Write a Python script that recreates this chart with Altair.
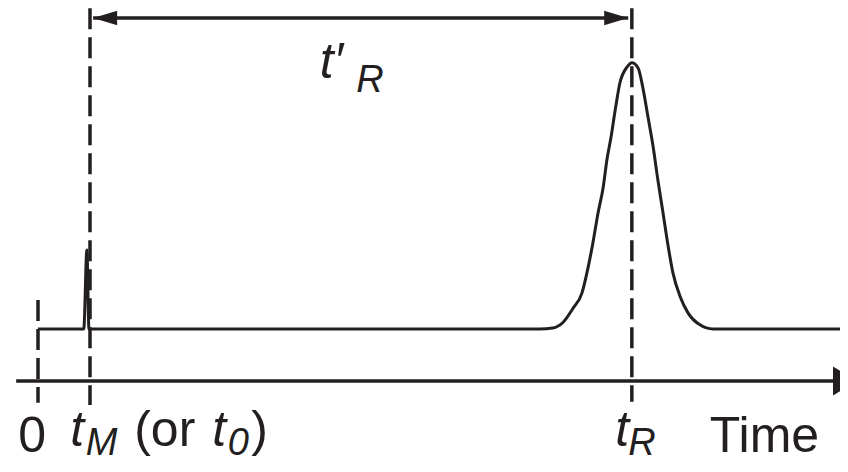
import altair as alt
import pandas as pd

INK = "#231f20"

# Chromatogram trace (time units: t0 = 0, tM = 1; signal: baseline = 1)
trace_time = [0.00, 0.88, 0.94, 0.98, 9.65, 9.90, 10.10, 10.29, 10.46, 10.58, 10.67,
              10.77, 10.87, 10.94, 11.02, 11.10, 11.19, 11.33, 11.42, 11.54, 11.63,
              11.73, 11.83, 11.92, 12.02, 12.12, 12.21, 12.35, 12.50, 12.73, 12.98, 15.60]
trace_signal = [1.00, 1.00, 2.52, 1.00, 1.00, 1.02, 1.13, 1.40, 1.69, 2.19, 2.65,
                3.23, 3.73, 4.25, 4.69, 5.21, 5.73, 6.04, 6.12, 6.02, 5.65,
                5.08, 4.50, 3.87, 3.23, 2.58, 2.08, 1.62, 1.31, 1.08, 1.00, 1.00]

# Dashed time markers: 0, tM, tR
marker_time = [0.0, 1.0, 11.42]
marker_top = [1.56, 7.17, 7.17]
marker_bottom = [-0.42, -0.46, -0.40]

# Time axis arrow and t'R span arrow
axis_start, axis_end = [-0.42], [15.75]
span_start, span_end, span_level = [1.06], [11.35], [6.98]

# Labels
upright_text = ["0", "(or", ")", "Time"]
upright_x = [-0.38, 1.85, 4.10, 12.92]
upright_y = [-1.365, -1.25, -1.25, -1.365]

italic_text = ["t", "M", "t", "0", "t", "R", "t\u2032", "R"]
italic_x = [0.62, 0.92, 3.35, 3.65, 11.10, 11.35, 5.42, 6.12]
italic_y = [-1.25, -1.423, -1.25, -1.423, -1.25, -1.423, 5.827, 5.558]
italic_size = [50, 38, 50, 38, 50, 38, 50, 38]

X_DOMAIN = [-0.577, 15.423]
Y_DOMAIN = [-1.596, 7.173]

xs = alt.Scale(domain=X_DOMAIN, nice=False, zero=False)
ys = alt.Scale(domain=Y_DOMAIN, nice=False, zero=False)


def X(f):
    return alt.X(f, type="quantitative", scale=xs, axis=None)


def Y(f):
    return alt.Y(f, type="quantitative", scale=ys, axis=None)


trace_df = pd.DataFrame({"t": trace_time, "s": trace_signal, "i": range(len(trace_time))})
marker_df = pd.DataFrame({"t": marker_time, "top": marker_top, "bottom": marker_bottom})
axis_df = pd.DataFrame({"a": axis_start, "b": axis_end, "y": [0.0]})
span_df = pd.DataFrame({"a": span_start, "b": span_end, "y": span_level})
up_df = pd.DataFrame({"label": upright_text, "x": upright_x, "y": upright_y})
it_df = pd.DataFrame({"label": italic_text, "x": italic_x, "y": italic_y, "size": italic_size})

trace = alt.Chart(trace_df).mark_line(
    color=INK, strokeWidth=3, interpolate="monotone"
).encode(x=X("t"), y=Y("s"), order="i:Q")

markers = alt.Chart(marker_df).mark_rule(
    color=INK, strokeWidth=3.5, strokeDash=[21, 8]
).encode(x=X("t"), y=Y("top"), y2="bottom")

axis_line = alt.Chart(axis_df).mark_rule(color=INK, strokeWidth=3.5).encode(
    x=X("a"), x2="b", y=Y("y"))
axis_head = alt.Chart(axis_df).mark_point(
    shape="M0,0 L-2,-1.2 L-2,1.2 Z", filled=True, size=576, color=INK, opacity=1, strokeWidth=0
).encode(x=X("b"), y=Y("y"))

span_line = alt.Chart(span_df).mark_rule(color=INK, strokeWidth=3.5).encode(
    x=X("a"), x2="b", y=Y("y"))
span_head_l = alt.Chart(span_df).mark_point(
    shape="M0,0 L2,-0.6 L2,0.6 Z", filled=True, size=576, color=INK, opacity=1, strokeWidth=0
).encode(x=X("a"), y=Y("y"))
span_head_r = alt.Chart(span_df).mark_point(
    shape="M0,0 L-2,-0.6 L-2,0.6 Z", filled=True, size=576, color=INK, opacity=1, strokeWidth=0
).encode(x=X("b"), y=Y("y"))

up_text = alt.Chart(up_df).mark_text(
    font="Liberation Sans", fontSize=50, align="left", baseline="alphabetic", color=INK
).encode(x=X("x"), y=Y("y"), text="label:N")

it_text = alt.Chart(it_df).mark_text(
    font="Liberation Sans", fontStyle="italic", align="left", baseline="alphabetic", color=INK
).encode(x=X("x"), y=Y("y"), text="label:N", size=alt.Size("size:Q", scale=None))

chart = alt.layer(
    trace, markers, axis_line, axis_head, span_line, span_head_l, span_head_r, up_text, it_text
).properties(
    width=832, height=456, padding=0,
    autosize=alt.AutoSizeParams(type="none"),
    background="white",
).configure_view(stroke=None)

chart.save("out.html", embed_options={"renderer": "svg", "actions": False})
